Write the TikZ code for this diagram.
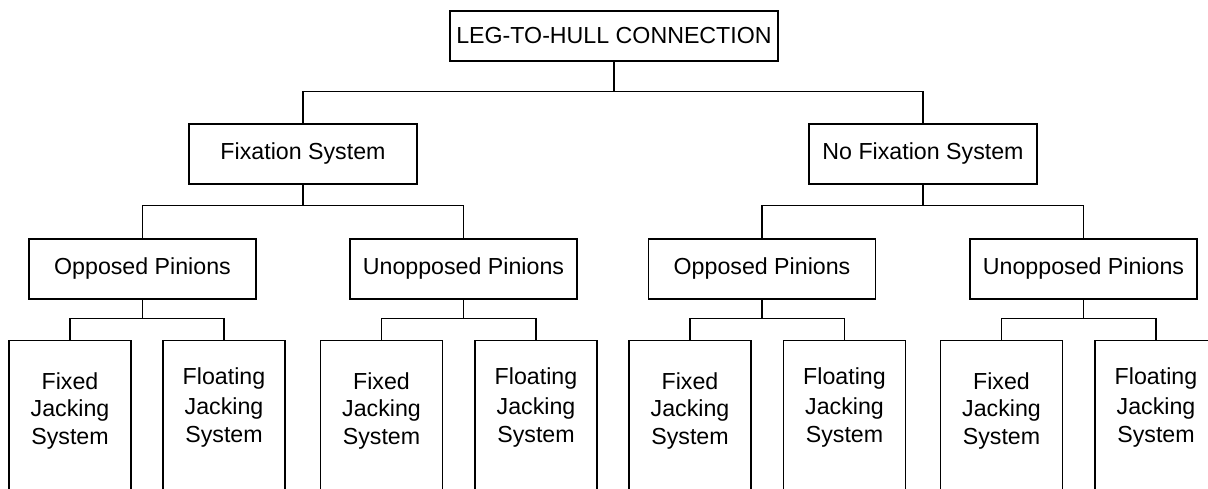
\documentclass[tikz,border=0pt]{standalone}
\usepackage{fontspec}
\setmainfont{Liberation Sans}
\begin{document}
\begin{tikzpicture}[x=1pt,y=-1pt,line cap=rect,line join=miter,
  every node/.style={font=\fontsize{23.2}{27.8}\selectfont},
  box/.style={draw,line width=1.2pt,minimum height=60pt,minimum width=227pt,inner sep=0pt},
  leaf/.style={draw,line width=1.2pt,minimum height=200pt,minimum width=122pt,anchor=north,inner sep=0pt},
  leaftext/.style={anchor=north,align=center,inner sep=0pt},
  link/.style={line width=1.2pt}]

% frame of the picture
\path[use as bounding box] (0,0) rectangle (1208,489);
\clip (0,0) rectangle (1208,489);

% top box
\node[box,minimum width=328pt,minimum height=50pt] (top) at (614,36) {LEG-TO-HULL CONNECTION};

% second row
\node[box,minimum width=228pt] (fix) at (303,154) {Fixation System};
\node[box,minimum width=228pt] (nofix) at (923,154) {No Fixation System};

% third row
\node[box] (oppL) at (142.5,269) {Opposed Pinions};
\node[box] (unoppL) at (463.5,269) {Unopposed Pinions};
\node[box] (oppR) at (762,269) {Opposed Pinions};
\node[box] (unoppR) at (1083.5,269) {Unopposed Pinions};

% leaves (cut off at the bottom)
\node[leaf] (fixedA) at (70,340) {};
\node[leaf] (floatA) at (224,340) {};
\node[leaf] (fixedB) at (381.5,340) {};
\node[leaf] (floatB) at (536,340) {};
\node[leaf] (fixedC) at (690,340) {};
\node[leaf] (floatC) at (844.5,340) {};
\node[leaf] (fixedD) at (1001.5,340) {};
\node[leaf] (floatD) at (1156,340) {};

% leaf labels
\node[leaftext] (tfixedA) at ([yshift=-32pt]fixedA.north) {Fixed\\Jacking\\System};
\node[leaftext] (tfloatA) at ([yshift=-27pt]floatA.north) {Floating\\[3pt]Jacking\\System};
\node[leaftext] (tfixedB) at ([yshift=-32pt]fixedB.north) {Fixed\\Jacking\\System};
\node[leaftext] (tfloatB) at ([yshift=-27pt]floatB.north) {Floating\\[3pt]Jacking\\System};
\node[leaftext] (tfixedC) at ([yshift=-32pt]fixedC.north) {Fixed\\Jacking\\System};
\node[leaftext] (tfloatC) at ([yshift=-27pt]floatC.north) {Floating\\[3pt]Jacking\\System};
\node[leaftext] (tfixedD) at ([yshift=-32pt]fixedD.north) {Fixed\\Jacking\\System};
\node[leaftext] (tfloatD) at ([yshift=-27pt]floatD.north) {Floating\\[3pt]Jacking\\System};

% connectors, first level
\draw[link] (top.south) -- ++(0,30) -| (fix.north);
\draw[link] (top.south) -- ++(0,30) -| (nofix.north);

% connectors, second level
\draw[link] (fix.south) -- ++(0,21) -| (oppL.north);
\draw[link] (fix.south) -- ++(0,21) -| (unoppL.north);
\draw[link] (nofix.south) -- ++(0,21) -| (oppR.north);
\draw[link] (nofix.south) -- ++(0,21) -| (unoppR.north);

% connectors, third level
\draw[link] (oppL.south) -- ++(0,19) -| (fixedA.north);
\draw[link] (oppL.south) -- ++(0,19) -| (floatA.north);
\draw[link] (unoppL.south) -- ++(0,19) -| (fixedB.north);
\draw[link] (unoppL.south) -- ++(0,19) -| (floatB.north);
\draw[link] (oppR.south) -- ++(0,19) -| (fixedC.north);
\draw[link] (oppR.south) -- ++(0,19) -| (floatC.north);
\draw[link] (unoppR.south) -- ++(0,19) -| (fixedD.north);
\draw[link] (unoppR.south) -- ++(0,19) -| (floatD.north);

\end{tikzpicture}
\end{document}
